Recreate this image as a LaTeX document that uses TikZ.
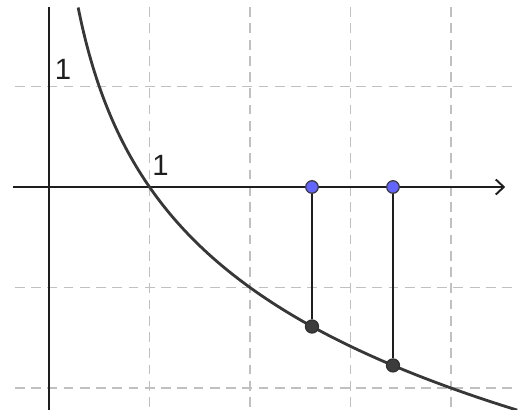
\documentclass[tikz,border=0pt]{standalone}
\usepackage{fontspec}
\setmainfont{Liberation Sans}
\usepackage{xcolor}
\usepackage{tikz}
\usetikzlibrary{arrows.meta,calc}
\definecolor{gridcolor}{RGB}{192,192,192}
\definecolor{axiscolor}{RGB}{30,30,30}
\definecolor{curvecolor}{RGB}{55,55,55}
\definecolor{ptblue}{RGB}{100,100,255}
\definecolor{ptdark}{RGB}{60,60,60}
\tikzset{
  grid line/.style={
    draw=gridcolor,
    line width=0.45pt,
    dash pattern=on 2.8pt off 1.8pt
  },
  axis/.style={
    draw=axiscolor,
    line width=0.55pt
  },
  curve/.style={
    draw=curvecolor,
    line width=0.8pt
  },
  drop/.style={
    draw=axiscolor,
    line width=0.5pt
  },
  free pt/.style={
    circle,
    draw=ptdark,
    fill=ptblue,
    line width=0.35pt,
    minimum size=0.125cm,
    inner sep=0pt
  },
  curve pt/.style={
    circle,
    draw=ptdark!80!black,
    fill=ptdark,
    line width=0.35pt,
    minimum size=0.13cm,
    inner sep=0pt
  },
  unit label/.style={
    font=\fontsize{8.3}{9}\selectfont,
    text=axiscolor,
    inner sep=0pt
  }
}

\begin{document}
\begin{tikzpicture}
  \useasboundingbox (-0.4876,-2.219) rectangle (4.677,1.861);
  % grid
  \foreach \gx in {1,2,3,4}
    \draw[grid line] (\gx,1.79) -- (\gx,-2.219);
  \foreach \gy in {1,-1,-2}
    \draw[grid line] (-0.34,\gy) -- (4.62,\gy);

  % axes
  \coordinate (xstart) at (-0.36,0);
  \coordinate (xend) at (4.54,0);
  \coordinate (ytop) at (0,1.79);
  \coordinate (ybot) at (0,-2.219);
  \draw[axis,-{Straight Barb[length=0.08cm,width=0.15cm]}] (xstart) -- (xend);
  \draw[axis] (ybot) -- (ytop);

  % y = log_{1/2} x
  \draw[curve] plot[domain=0.29:4.66,samples=120,smooth] (\x,{-ln(\x)/ln(2)});

  % points
  \node[free pt] (a1) at (2.617,0) {};
  \node[free pt] (a2) at (3.423,0) {};
  \node[curve pt] (b1) at (2.617,{-ln(2.617)/ln(2)}) {};
  \node[curve pt] (b2) at (3.423,{-ln(3.423)/ln(2)}) {};
  \draw[drop] (a1) -- (b1);
  \draw[drop] (a2) -- (b2);

  \node[unit label] (ylab) at (0.14,1.17) {1};
  \node[unit label] (xlab) at (1.11,0.21) {1};
\end{tikzpicture}
\end{document}
